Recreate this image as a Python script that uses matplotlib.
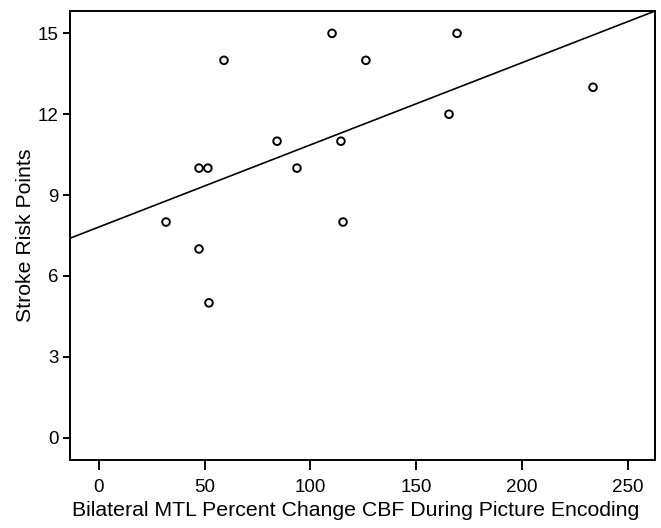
import numpy as np
import matplotlib
matplotlib.use("Agg")
import matplotlib.pyplot as plt

plt.rcParams['font.family'] = ['Liberation Sans', 'DejaVu Sans']

x_vals = [31.7, 47.3, 47.3, 51.5, 52.0, 59.1, 84.2, 93.6, 110.2, 114.4, 115.4, 126.2, 165.5, 169.3, 233.6]
y_vals = [8, 7, 10, 10, 5, 14, 11, 10, 15, 11, 8, 14, 12, 15, 13]
x_ticks = [0, 50, 100, 150, 200, 250]
y_ticks = [0, 3, 6, 9, 12, 15]

fig = plt.figure(figsize=(6.61, 5.28), dpi=100)
ax = fig.add_axes([70/661, 68/528, 585/661, 449/528])

xlim = (-13.7, 262.9)
ylim = (-0.83, 15.83)

slope, intercept = np.polyfit(x_vals, y_vals, 1)
xl = np.array(xlim)
ax.plot(xl, intercept + slope * xl, color='black', lw=1.2, zorder=2)

ax.scatter(x_vals, y_vals, s=30, facecolors='none', edgecolors='black', linewidths=1.4, zorder=3)

ax.set_xlim(*xlim)
ax.set_ylim(*ylim)
ax.set_xticks(x_ticks)
ax.set_yticks(y_ticks)
for s in ax.spines.values():
    s.set_linewidth(1.4)
ax.tick_params(axis='x', length=7, width=1.4, labelsize=13.5, pad=7)
ax.tick_params(axis='y', length=5, width=1.4, labelsize=13.5, pad=3)
ax.set_xlabel('Bilateral MTL Percent Change CBF During Picture Encoding', fontsize=15.3, labelpad=3)
ax.xaxis.label.set_x(0.489)
ax.set_ylabel('Stroke Risk Points', fontsize=15.3, labelpad=2)

fig.savefig('out.png', dpi=100)
